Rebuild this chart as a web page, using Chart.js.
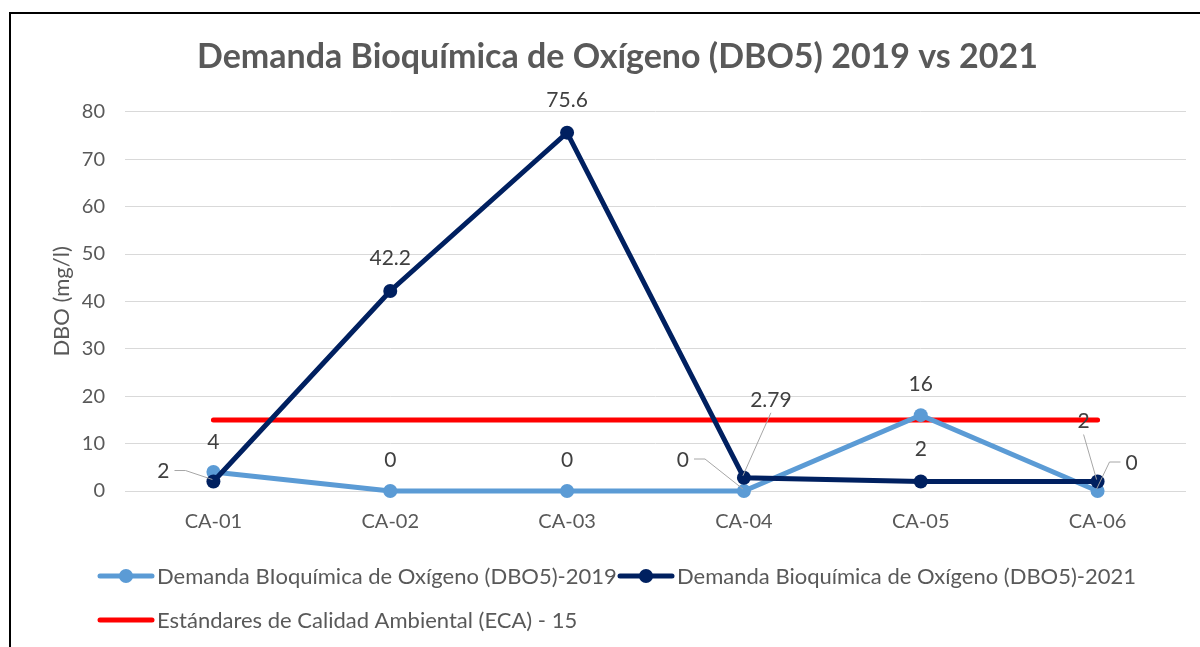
<!DOCTYPE html>
<html>
<head>
<meta charset="utf-8">
<script src="https://cdn.jsdelivr.net/npm/chart.js@4/dist/chart.umd.min.js"></script>
<style>
  html, body { margin: 0; padding: 0; background: #fff; }
  #box { width: 1200px; height: 647px; position: relative; }
</style>
</head>
<body>
<div id="box"><canvas id="chart"></canvas></div>
<script>
const stations = ['CA-01', 'CA-02', 'CA-03', 'CA-04', 'CA-05', 'CA-06'];
const dbo2019 = [4, 0, 0, 0, 16, 0];
const dbo2021 = [2, 42.2, 75.6, 2.79, 2, 2];
const eca = [15, 15, 15, 15, 15, 15];

const label2019 = 'Demanda BIoquímica de Oxígeno (DBO5)-2019';
const label2021 = 'Demanda Bioquímica de Oxígeno (DBO5)-2021';
const labelEca = 'Estándares de Calidad Ambiental (ECA) - 15';

// where each value label sits relative to its point: [dx, dy, leader]
const place2019 = [[0, -30], [0, -31], [0, -31], [-61, -31, 'left'], [0, -31], [34, -28, 'right']];
const place2021 = [[-50, -10, 'left'], [0, -33], [0, -32], [27, -78, 'below'], [0, -32], [-14, -60, 'below']];

const light = '#5B9BD5';
const navy = '#002060';
const red = '#FF0000';
const grey = '#595959';

Chart.defaults.font.family = 'Lato';
Chart.defaults.color = grey;

/* value labels with Excel-like leader lines */
const pointLabels = {
  id: 'pointLabels',
  afterDatasetsDraw(chart) {
    const ctx = chart.ctx;
    ctx.save();
    ctx.font = '21px Lato';
    ctx.textAlign = 'center';
    ctx.textBaseline = 'middle';
    chart.data.datasets.forEach((ds, i) => {
      if (!ds.placement) return;
      chart.getDatasetMeta(i).data.forEach((pt, j) => {
        const [dx, dy, leader] = ds.placement[j];
        const x = pt.x + dx, y = pt.y + dy;
        const text = String(ds.data[j]);
        const w = ctx.measureText(text).width;
        ctx.fillStyle = '#404040';
        ctx.fillText(text, x, y);
        if (!leader) return;
        ctx.strokeStyle = '#A6A6A6';
        ctx.lineWidth = 1;
        ctx.beginPath();
        if (leader == 'left') {
          ctx.moveTo(x + w / 2 + 5, y - 1);
          ctx.lineTo(x + w / 2 + 16, y - 1);
        } else if (leader == 'right') {
          ctx.moveTo(x - w / 2 - 5, y - 1);
          ctx.lineTo(x - w / 2 - 16, y - 1);
        } else {
          ctx.moveTo(x, y + 13);
        }
        ctx.lineTo(pt.x - 1, pt.y - 2);
        ctx.stroke();
      });
    });
    ctx.restore();
  }
};

/* legend at the bottom and the frame round the chart */
const decorations = {
  id: 'decorations',
  afterDraw(chart) {
    const ctx = chart.ctx;
    ctx.save();

    ctx.fillStyle = '#000';
    ctx.fillRect(9, 12, 2, 635);
    ctx.fillRect(9, 12, 1191, 2);

    const items = [
      { x: 98, y: 576, color: light, marker: true, text: label2019 },
      { x: 618, y: 576, color: navy, marker: true, text: label2021 },
      { x: 98, y: 620, color: red, marker: false, text: labelEca },
    ];
    ctx.font = '22px Lato';
    ctx.textBaseline = 'middle';
    ctx.textAlign = 'left';
    for (const item of items) {
      ctx.strokeStyle = item.color;
      ctx.lineWidth = 5;
      ctx.lineCap = 'round';
      ctx.beginPath();
      ctx.moveTo(item.x + 2, item.y);
      ctx.lineTo(item.x + 54, item.y);
      ctx.stroke();
      if (item.marker) {
        ctx.fillStyle = item.color;
        ctx.beginPath();
        ctx.arc(item.x + 28, item.y, 7, 0, Math.PI * 2);
        ctx.fill();
      }
      ctx.fillStyle = grey;
      ctx.fillText(item.text, item.x + 59, item.y + 1);
    }
    ctx.restore();
  }
};

new Chart(document.getElementById('chart'), {
  type: 'line',
  data: {
    labels: stations,
    datasets: [
      {
        label: label2019, data: dbo2019, placement: place2019, order: 2, clip: false,
        borderColor: light, backgroundColor: light,
        borderWidth: 5, pointRadius: 7, pointBorderWidth: 0,
      },
      {
        label: label2021, data: dbo2021, placement: place2021, order: 1, clip: false,
        borderColor: navy, backgroundColor: navy,
        borderWidth: 5, pointRadius: 7, pointBorderWidth: 0,
      },
      {
        label: labelEca, data: eca, order: 3,
        borderColor: red, backgroundColor: red,
        borderWidth: 5, pointRadius: 0, borderCapStyle: 'round',
      },
    ]
  },
  options: {
    responsive: true,
    maintainAspectRatio: false,
    animation: false,
    events: [],
    layout: { padding: { left: 49, right: 14, top: 0, bottom: 110 } },
    plugins: {
      legend: { display: false },
      tooltip: { enabled: false },
      title: {
        display: true,
        text: 'Demanda Bioquímica de Oxígeno (DBO5) 2019 vs 2021',
        color: grey,
        font: { size: 34, weight: 'bold' },
        padding: { top: 37, bottom: 34 },
      },
    },
    scales: {
      x: {
        offset: true,
        grid: { display: false, drawTicks: false },
        border: { display: false },
        ticks: { padding: 19, maxRotation: 0, font: { size: 20 }, color: grey },
        afterFit: (scale) => { scale.height = 46; },
      },
      y: {
        min: 0, max: 80,
        ticks: { stepSize: 10, padding: 20, font: { size: 20 }, color: grey },
        grid: { color: '#D9D9D9', lineWidth: 1, drawTicks: false },
        border: { display: false },
        title: { display: true, text: 'DBO (mg/l)', font: { size: 22 }, color: grey, padding: 0 },
        afterFit: (scale) => { scale.width = 76; },
      },
    },
  },
  plugins: [pointLabels, decorations],
});
</script>
</body>
</html>
